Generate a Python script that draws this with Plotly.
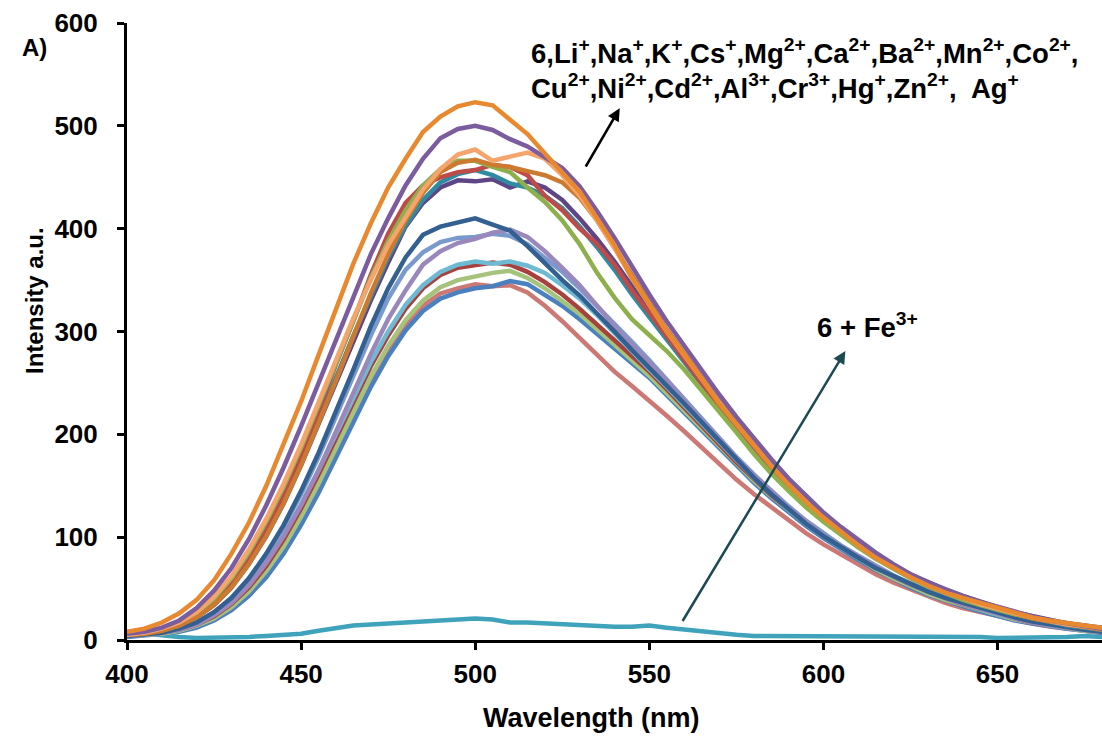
import plotly.graph_objects as go

# Emission wavelength grid (nm)
wavelength = [400, 405, 410, 415, 420, 425, 430, 435, 440, 445,
              450, 455, 460, 465, 470, 475, 480, 485, 490, 495,
              500, 505, 510, 515, 520, 525, 530, 535, 540, 545,
              550, 555, 560, 565, 570, 575, 580, 585, 590, 595,
              600, 605, 610, 615, 620, 625, 630, 635, 640, 645,
              650, 655, 660, 665, 670, 675, 680]

# Fluorescence intensity (a.u.) of 6 alone and with each metal ion
s_orange = [8, 11, 17, 26, 39, 58, 84, 114, 150, 190,
            232, 277, 322, 366, 405, 440, 468, 494, 509, 519,
            523, 520, 506, 492, 473, 455, 436, 410, 384, 352,
            326, 300, 278, 254, 230, 210, 189, 169, 151, 134,
            119, 105, 92, 80, 70, 61, 53, 46, 41, 36,
            31, 26, 22, 19, 16, 14, 12]
s_purple = [6, 8, 12, 19, 31, 48, 70, 98, 131, 168,
            208, 250, 293, 335, 375, 410, 442, 468, 488, 497,
            500, 496, 487, 480, 470, 459, 441, 417, 391, 363,
            336, 310, 286, 262, 239, 217, 196, 176, 157, 140,
            124, 110, 97, 85, 74, 64, 56, 49, 43, 37,
            32, 27, 23, 19, 16, 13, 11]
s_light_orange = [5, 7, 11, 17, 27, 42, 62, 88, 118, 152,
                  190, 230, 272, 313, 350, 384, 412, 438, 458, 472,
                  477, 466, 470, 474, 468, 452, 432, 408, 381, 352,
                  326, 300, 277, 254, 231, 210, 190, 170, 152, 136,
                  121, 107, 94, 82, 72, 62, 54, 47, 41, 35,
                  30, 26, 22, 18, 15, 13, 11]
s_dark_orange = [5, 6, 9, 14, 22, 34, 51, 74, 101, 133,
                 170, 210, 252, 295, 337, 375, 408, 435, 455, 464,
                 467, 462, 460, 456, 452, 445, 430, 408, 382, 354,
                 328, 302, 279, 255, 232, 211, 190, 170, 152, 135,
                 120, 106, 93, 81, 71, 62, 54, 47, 41, 35,
                 30, 25, 21, 18, 15, 12, 10]
s_green = [5, 7, 10, 16, 26, 40, 60, 85, 115, 149,
           187, 228, 270, 312, 352, 388, 418, 442, 458, 466,
           466, 460, 455, 440, 426, 408, 385, 357, 333, 312,
           297, 281, 263, 243, 222, 202, 181, 162, 145, 129,
           115, 102, 90, 79, 69, 60, 52, 45, 39, 34,
           29, 25, 21, 18, 15, 13, 11]
s_red = [5, 6, 9, 15, 24, 37, 56, 80, 109, 142,
         180, 222, 268, 310, 355, 395, 425, 442, 450, 455,
         457, 462, 460, 452, 432, 418, 400, 385, 365, 340,
         318, 295, 273, 250, 228, 208, 188, 168, 150, 133,
         118, 104, 92, 81, 71, 62, 54, 47, 41, 35,
         30, 26, 22, 18, 15, 13, 11]
s_teal = [5, 6, 9, 14, 23, 35, 53, 76, 104, 136,
          173, 213, 255, 296, 335, 372, 403, 428, 445, 453,
          457, 452, 444, 440, 432, 420, 402, 382, 360, 336,
          314, 292, 271, 249, 227, 207, 187, 167, 149, 132,
          117, 103, 91, 80, 70, 61, 53, 46, 40, 34,
          29, 25, 21, 17, 14, 12, 10]
s_dark_purple = [5, 6, 9, 14, 22, 34, 51, 74, 101, 133,
                 170, 210, 250, 290, 330, 367, 402, 425, 440, 447,
                 446, 448, 440, 446, 440, 428, 410, 390, 368, 344,
                 320, 297, 275, 253, 232, 212, 192, 173, 155, 138,
                 122, 108, 95, 84, 73, 64, 56, 49, 43, 37,
                 32, 27, 23, 19, 16, 14, 12]
s_dark_blue = [4, 5, 7, 11, 17, 27, 41, 60, 84, 112,
               145, 182, 222, 263, 305, 342, 372, 394, 402, 406,
               410, 404, 398, 383, 366, 350, 335, 318, 300, 282,
               265, 248, 230, 212, 194, 176, 158, 142, 127, 113,
               101, 90, 80, 70, 62, 54, 47, 41, 36, 31,
               26, 22, 18, 15, 12, 10, 8]
s_light_purple = [4, 5, 7, 10, 15, 24, 36, 53, 75, 101,
                  131, 165, 202, 240, 278, 312, 340, 365, 378, 386,
                  390, 396, 399, 392, 378, 362, 345, 325, 305, 287,
                  270, 252, 233, 214, 195, 177, 160, 144, 129, 115,
                  102, 91, 81, 71, 62, 54, 47, 41, 35, 30,
                  25, 21, 17, 14, 12, 10, 8]
s_light_blue = [4, 5, 7, 11, 17, 27, 40, 58, 82, 110,
                142, 178, 217, 257, 296, 332, 360, 377, 387, 391,
                392, 395, 393, 385, 372, 358, 342, 325, 308, 290,
                272, 253, 234, 215, 196, 178, 161, 145, 130, 116,
                104, 92, 82, 72, 63, 55, 48, 42, 36, 31,
                26, 22, 18, 15, 12, 10, 8]
s_cyan = [4, 5, 7, 10, 16, 25, 37, 54, 76, 102,
          132, 165, 200, 236, 270, 300, 326, 345, 358, 365,
          368, 366, 368, 364, 357, 345, 332, 316, 298, 280,
          263, 246, 228, 210, 192, 175, 158, 142, 127, 114,
          102, 90, 80, 70, 62, 54, 47, 41, 35, 30,
          25, 21, 17, 14, 12, 10, 8]
s_dark_red = [4, 5, 7, 10, 15, 23, 35, 51, 72, 98,
              128, 161, 196, 232, 266, 296, 322, 342, 355, 362,
              364, 367, 365, 358, 348, 336, 322, 307, 292, 277,
              261, 244, 226, 208, 190, 173, 157, 141, 127, 114,
              102, 91, 81, 71, 62, 54, 47, 41, 35, 30,
              25, 21, 17, 14, 12, 10, 8]
s_light_green = [4, 5, 6, 9, 14, 21, 32, 47, 67, 91,
                 120, 152, 187, 222, 256, 286, 311, 330, 343, 350,
                 354, 357, 359, 352, 342, 330, 317, 302, 287, 272,
                 257, 240, 223, 206, 188, 171, 155, 140, 126, 113,
                 101, 90, 79, 69, 60, 52, 45, 39, 34, 29,
                 24, 20, 17, 14, 11, 9, 8]
s_blue = [3, 4, 6, 8, 12, 19, 29, 43, 61, 84,
          112, 143, 177, 212, 246, 276, 301, 320, 332, 338,
          342, 344, 349, 346, 336, 325, 312, 298, 284, 270,
          255, 238, 221, 203, 186, 169, 153, 138, 124, 111,
          99, 88, 78, 68, 59, 51, 44, 38, 33, 28,
          23, 19, 16, 13, 11, 9, 7]
s_pink = [4, 5, 7, 10, 15, 22, 33, 48, 67, 91,
          119, 150, 183, 217, 250, 280, 305, 325, 337, 342,
          346, 344, 345, 338, 325, 310, 294, 277, 261, 247,
          233, 218, 203, 187, 171, 156, 142, 129, 116, 104,
          93, 83, 73, 64, 56, 49, 42, 36, 31, 27,
          23, 19, 16, 13, 11, 9, 7]
s_fe = [8, 6, 4, 3, 2, 2, 3, 3, 4, 5,
        6, 9, 12, 14, 15, 16, 17, 18, 19, 20,
        21, 20, 17, 17, 16, 16, 15, 14, 13, 13,
        14, 12, 10, 8, 6, 5, 4, 4, 4, 3,
        3, 4, 3, 3, 3, 3, 3, 3, 3, 3,
        2, 2, 2, 3, 3, 4, 3]

# drawing order: lowest spectra first so the brightest lie on top
series = [
    (s_fe, "#3FA3BC"),
    (s_pink, "#CC7874"),
    (s_blue, "#4A7FC0"),
    (s_light_green, "#A5C37A"),
    (s_dark_red, "#A8403D"),
    (s_cyan, "#6DBAD2"),
    (s_light_blue, "#7A9ACD"),
    (s_light_purple, "#9A88BC"),
    (s_dark_blue, "#335F91"),
    (s_dark_purple, "#5E4686"),
    (s_teal, "#2E8BA0"),
    (s_red, "#BE4B48"),
    (s_green, "#8DB04D"),
    (s_dark_orange, "#CC7A30"),
    (s_light_orange, "#F5A46C"),
    (s_purple, "#7B5C9E"),
    (s_orange, "#E8892F"),
]

fig = go.Figure()
for vals, col in series:
    fig.add_trace(go.Scatter(x=wavelength, y=vals, mode="lines",
                             line=dict(color=col, width=4.5),
                             showlegend=False, hoverinfo="skip"))

FONT = "Liberation Sans, Arial, sans-serif"
bold = dict(family=FONT, size=26, color="black", weight="bold")
label_font = dict(family=FONT, size=27.5, color="black", weight="bold")

axis_common = dict(showline=True, linecolor="black", linewidth=3,
                   ticks="outside", ticklen=7, tickwidth=3, tickcolor="black",
                   showgrid=False, zeroline=False, tickfont=bold)

fig.update_layout(
    width=1102, height=740,
    margin=dict(l=127, r=0, t=23, b=100),
    plot_bgcolor="white", paper_bgcolor="white",
    xaxis=dict(range=[400, 680], dtick=50, tick0=400, ticklabelstandoff=2, **axis_common),
    yaxis=dict(range=[0, 600], dtick=100, tick0=0, ticklabelstandoff=14, **axis_common),
)

ann = [
    dict(xref="paper", yref="paper", x=0.412, y=0.953, xanchor="left", yanchor="middle",
         showarrow=False, font=label_font,
         text="6,Li<sup>+</sup>,Na<sup>+</sup>,K<sup>+</sup>,Cs<sup>+</sup>,Mg<sup>2+</sup>,"
              "Ca<sup>2+</sup>,Ba<sup>2+</sup>,Mn<sup>2+</sup>,Co<sup>2+</sup>,"),
    dict(xref="paper", yref="paper", x=0.412, y=0.897, xanchor="left", yanchor="middle",
         showarrow=False, font=label_font,
         text="Cu<sup>2+</sup>,Ni<sup>2+</sup>,Cd<sup>2+</sup>,Al<sup>3+</sup>,Cr<sup>3+</sup>,"
              "Hg<sup>+</sup>,Zn<sup>2+</sup>,  Ag<sup>+</sup>"),
    # arrow towards the unquenched spectra label
    dict(xref="x", yref="y", axref="x", ayref="y", x=541.5, y=517, ax=531.5, ay=459,
         showarrow=True, arrowhead=2, arrowsize=1, arrowwidth=2.5, arrowcolor="black", text=""),
    dict(xref="x", yref="y", x=597.5, y=306, xanchor="left", yanchor="middle",
         showarrow=False, font=label_font, text="6 + Fe<sup>3+</sup>"),
    # arrow from the quenched spectrum
    dict(xref="x", yref="y", axref="x", ayref="y", x=606.3, y=281, ax=559.3, ay=17,
         showarrow=True, arrowhead=2, arrowsize=1, arrowwidth=2.5, arrowcolor="#1B4A52", text=""),
    dict(xref="paper", yref="paper", x=-0.0944, y=0.961, xanchor="center", yanchor="middle",
         showarrow=False, font=dict(family=FONT, size=24, color="black", weight="bold"), text="A)"),
    dict(xref="paper", yref="paper", x=-0.095, y=0.55, xanchor="center", yanchor="middle",
         showarrow=False, textangle=-90, font=dict(family=FONT, size=24, color="black", weight="bold"),
         text="Intensity a.u."),
    dict(xref="paper", yref="paper", x=0.476, y=-0.126, xanchor="center", yanchor="middle",
         showarrow=False, font=dict(family=FONT, size=27, color="black", weight="bold"),
         text="Wavelength (nm)"),
]
fig.update_layout(annotations=ann)

fig.write_html("out.html")
